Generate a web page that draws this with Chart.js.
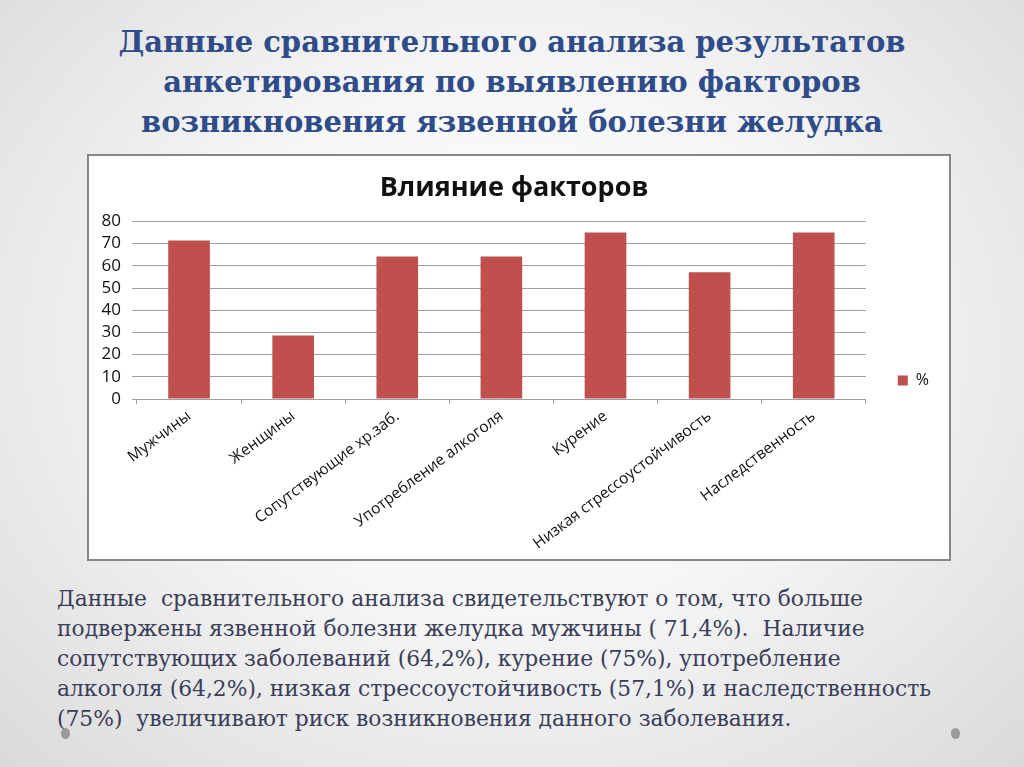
<!DOCTYPE html>
<html lang="ru">
<head>
<meta charset="utf-8">
<title>Влияние факторов</title>
<script src="https://cdn.jsdelivr.net/npm/chart.js@4.4.1/dist/chart.umd.min.js"></script>
<style>
  html, body {
    margin: 0;
    padding: 0;
  }

  body {
    width: 1024px;
    height: 767px;
    overflow: hidden;
    position: relative;
    background: radial-gradient(ellipse at 50% 45%, #ffffff 0%, #f6f6f6 45%, #dadada 100%);
  }

  .slide-title {
    position: absolute;
    left: 0;
    right: 0;
    top: 22px;
    text-align: center;
    font-family: 'DejaVu Serif', serif;
    font-weight: bold;
    font-size: 29px;
    line-height: 40px;
    color: #2f4c8a;
  }

  .chart-box {
    position: absolute;
    left: 87px;
    top: 154px;
    width: 860px;
    height: 403px;
    background: #fff;
    border: 2px solid #868686;
  }

  .note {
    position: absolute;
    left: 57px;
    top: 584px;
    width: 960px;
    font-family: 'DejaVu Serif', serif;
    font-size: 21.8px;
    line-height: 30px;
    color: #3a3d58;
  }

  .dot {
    position: absolute;
    width: 9px;
    height: 11px;
    border-radius: 50%;
    background: #9a9a9a;
  }
</style>
</head>
<body>
  <div class="slide-title">
    Данные сравнительного анализа результатов<br>
    анкетирования по выявлению факторов<br>
    возникновения язвенной болезни желудка
  </div>

  <div class="chart-box">
    <canvas id="chart"></canvas>
  </div>

  <div class="note">
    Данные&nbsp; сравнительного анализа свидетельствуют о том, что больше<br>
    подвержены язвенной болезни желудка мужчины ( 71,4%).&nbsp; Наличие<br>
    сопутствующих заболеваний (64,2%), курение (75%), употребление<br>
    алкоголя (64,2%), низкая стрессоустойчивость (57,1%) и наследственность<br>
    (75%)&nbsp; увеличивают риск возникновения данного заболевания.
  </div>

  <div class="dot" style="left: 61px; top: 728px;"></div>
  <div class="dot" style="left: 951px; top: 728px;"></div>

<script>
  const chartTitle = 'Влияние факторов'
  const seriesName = '%'
  const categories = [
    'Мужчины',
    'Женщины',
    'Сопутствующие хр.заб.',
    'Употребление алкоголя',
    'Курение',
    'Низкая стрессоустойчивость',
    'Наследственность'
  ]
  const percentValues = [71.4, 28.6, 64.2, 64.2, 75, 57.1, 75]
  const yMin = 0
  const yMax = 80
  const yStep = 10

  const barColor = '#c0504d'
  const gridColor = '#a0a0a0'
  const textColor = '#111111'
  const chartFont = 'Open Sans'

  const ctx = document.getElementById('chart').getContext('2d')
  new Chart(ctx, {
    type: 'bar',
    data: {
      labels: categories,
      datasets: [
        {
          label: seriesName,
          data: percentValues,
          backgroundColor: barColor,
          borderWidth: 0,
          categoryPercentage: 1,
          barPercentage: 0.4
        }
      ]
    },
    options: {
      responsive: true,
      maintainAspectRatio: false,
      animation: false,
      layout: {
        padding: { left: 0, right: 10, top: 0, bottom: 0 }
      },
      plugins: {
        title: {
          display: true,
          text: chartTitle,
          color: textColor,
          font: { family: chartFont, size: 27, weight: 'bold' },
          padding: { top: 16, bottom: 17 }
        },
        legend: {
          position: 'right',
          align: 'start',
          // empty legend title only pushes the key down to where Excel put it
          title: {
            display: true,
            text: ' ',
            font: { size: 12 },
            padding: { top: 170, bottom: 0 }
          },
          labels: {
            boxWidth: 10,
            boxHeight: 10,
            padding: 32,
            color: textColor,
            font: { family: chartFont, size: 16 }
          }
        },
        tooltip: { enabled: false }
      },
      scales: {
        x: {
          grid: {
            display: true,
            drawOnChartArea: false,
            drawTicks: true,
            tickLength: 5,
            color: gridColor
          },
          border: { display: true, color: gridColor },
          ticks: {
            color: textColor,
            font: { family: chartFont, size: 15.5 },
            minRotation: 37,
            maxRotation: 37,
            autoSkip: false,
            padding: 3
          },
          afterFit (scale) {
            scale.height = 160
          }
        },
        y: {
          min: yMin,
          max: yMax,
          grid: {
            color: gridColor,
            tickLength: 5
          },
          border: { display: false },
          ticks: {
            stepSize: yStep,
            autoSkip: false,
            color: textColor,
            font: { family: chartFont, size: 17 },
            padding: 11
          },
          afterFit (scale) {
            scale.width = 48
          }
        }
      }
    }
  })
</script>
</body>
</html>
